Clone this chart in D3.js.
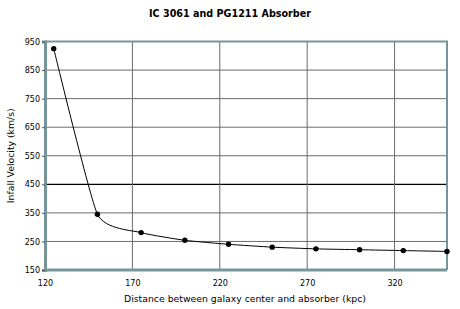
<!DOCTYPE html>
<html>
<head>
<meta charset="utf-8">
<script src="https://cdn.jsdelivr.net/npm/d3@7"></script>
<style>
	body { margin: 0; background: #fff; }
	text { font-family: "DejaVu Sans", Verdana, sans-serif; fill: #000; }
</style>
</head>
<body>
<div id="chart"></div>
<script>

	// data
	const distance = [125, 150, 175, 200, 225, 250, 275, 300, 325, 350];
	const velocity = [925, 345, 281, 254, 240, 230, 224, 221, 218, 215];
	const xTicks = [120, 170, 220, 270, 320];
	const yTicks = [150, 250, 350, 450, 550, 650, 750, 850, 950];

	const w = 460;
	const h = 309;
	const m = {top: 41.5, right: 13, bottom: 39, left: 45};

	const axisColor = "#76959b";
	const gridColor = "#6b6b6b";

	const points = distance.map((d, i) => ({x: d, y: velocity[i]}));

	const x = d3.scaleLinear()
		.domain([120, 350])
		.range([m.left, w - m.right]);

	const y = d3.scaleLinear()
		.domain([150, 950])
		.range([h - m.bottom, m.top]);

	const svg = d3.select("#chart")
		.append("svg")
		.attr("width", w)
		.attr("height", h);

	// title
	svg.append("text")
		.attr("x", 230)
		.attr("y", 17)
		.attr("text-anchor", "middle")
		.attr("font-size", 9.6)
		.attr("font-weight", "bold")
		.text("IC 3061 and PG1211 Absorber");

	// gridlines
	svg.append("g")
		.selectAll("line")
		.data(yTicks.filter(d => d > 150 && d < 950))
		.enter()
		.append("line")
		.attr("x1", x(120))
		.attr("x2", x(350))
		.attr("y1", d => y(d))
		.attr("y2", d => y(d))
		.attr("stroke", d => d === 450 ? "#000" : gridColor)
		.attr("stroke-width", d => d === 450 ? 1.2 : 1);

	svg.append("g")
		.selectAll("line")
		.data(xTicks.filter(d => d > 120))
		.enter()
		.append("line")
		.attr("x1", d => x(d))
		.attr("x2", d => x(d))
		.attr("y1", y(150))
		.attr("y2", y(950))
		.attr("stroke", gridColor)
		.attr("stroke-width", 1);

	// frame: top + right
	svg.append("path")
		.attr("d", `M${x(120)},${y(950)}H${x(350)}V${y(150)}`)
		.attr("fill", "none")
		.attr("stroke", axisColor)
		.attr("stroke-width", 2);

	// axes
	const yAxis = svg.append("g")
		.attr("transform", `translate(${x(120)},0)`)
		.call(d3.axisLeft(y).tickValues(yTicks).tickSize(3).tickPadding(2));

	const xAxis = svg.append("g")
		.attr("transform", `translate(0,${y(150)})`)
		.call(d3.axisBottom(x).tickValues(xTicks).tickSize(0).tickPadding(10));

	[yAxis, xAxis].forEach(g => {
		g.select(".domain")
			.attr("stroke", axisColor)
			.attr("stroke-width", 3);
		g.selectAll(".tick line").attr("stroke", "#555");
		g.selectAll("text")
			.attr("font-size", 8)
			.attr("font-family", "DejaVu Sans, Verdana, sans-serif")
			.attr("fill", "#000");
	});
	xAxis.select(".domain")
		.attr("d", `M${x(120)},0H${x(350)}`);

	// axis titles
	svg.append("text")
		.attr("x", 245)
		.attr("y", 302)
		.attr("text-anchor", "middle")
		.attr("font-size", 9.3)
		.text("Distance between galaxy center and absorber (kpc)");

	svg.append("text")
		.attr("transform", `translate(14,${(y(150) + y(950)) / 2}) rotate(-90)`)
		.attr("text-anchor", "middle")
		.attr("font-size", 9.3)
		.text("Infall Velocity (km/s)");

	// smoothed line
	const line = d3.line()
		.x(d => x(d.x))
		.y(d => y(d.y))
		.curve(d3.curveCardinal.tension(0.5));

	svg.append("path")
		.datum(points)
		.attr("d", line)
		.attr("fill", "none")
		.attr("stroke", "#000")
		.attr("stroke-width", 1);

	// dots
	svg.selectAll(".dot")
		.data(points)
		.enter()
		.append("circle")
		.attr("class", "dot")
		.attr("cx", d => x(d.x))
		.attr("cy", d => y(d.y))
		.attr("r", 2.7)
		.attr("fill", "#000");

</script>
</body>
</html>
